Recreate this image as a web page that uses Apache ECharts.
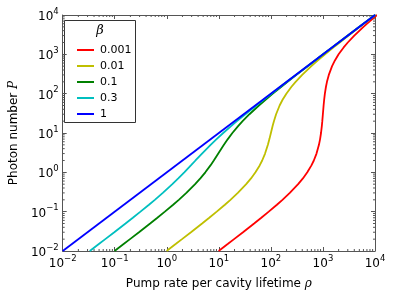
<!DOCTYPE html>
<html><head><meta charset="utf-8">
<script src="https://cdn.jsdelivr.net/npm/echarts@6/dist/echarts.min.js"></script>
<style>html,body{margin:0;padding:0;background:#fff}#c{width:395px;height:296px}</style>
</head><body><div id="c"></div>
<script>
// Photon number grid (y values) shared by curves
const photonNumber = [0.01,0.015,0.02,0.03,0.05,0.07,0.1,0.15,0.2,0.3,0.5,0.7,1,1.5,2,3,5,7,10,15,20,30,50,70,100,150,200,300,500,700,1000,1500,2000,3000,5000,7000,10000];
// Pump rate (x values) read for each beta
const pump_b0001 = [9.901,14.779,19.608,29.127,47.621,65.425,90.918,130.45,166.7,230.84,333.5,412.05,500.5,600.9,668,752.25,837.5,881.13,918.18,951.56,971.43,996.77,1029.4,1054.9,1089.1,1142.4,1194.0,1295.7,1497.0,1697.6,1998.0,2498.3,2998.5,3998.7,5998.8,7998.9,10998.9];
const pump_b001 = [0.9902,1.4781,1.9612,2.9135,4.7643,6.5466,9.1,13.063,16.7,23.146,33.5,41.465,50.5,60.9,68,77.25,87.5,93.625,100,107.81,114.29,125.81,147.06,167.61,198.02,248.34,298.51,398.67,598.8,798.86,1098.9,1598.9,2099.0,3099.0,5099.0,7099.0,10099.0];
const pump_b01 = [0.09911,0.148,0.19647,0.29214,0.47857,0.65879,0.91818,1.32391,1.7,2.3769,3.5,4.4059,5.5,6.9,8,9.75,12.5,14.875,18.182,23.4375,28.571,38.71,58.824,78.873,108.91,158.94,208.96,308.97,508.98,708.99,1008.99,1508.99,2009.0,3009.0,5009.0,7009.0,10009.0];
const pump_b03 = [0.033102,0.049483,0.065752,0.097961,0.161111,0.222648,0.312121,0.454348,0.588889,0.838462,1.277778,1.660784,2.166667,2.9,3.555556,4.75,6.944444,9.041667,12.121212,17.1875,22.222222,32.258065,52.287582,72.300469,102.310231,152.3179,202.3217,302.3256,502.3287,702.33,1002.331,1502.332,2002.332,3002.333,5002.333,7002.333,10002.333];
const pump_b1 = [0.01, 10000];
const photon_b1 = [0.01, 10000];
const betaLabels = ['0.001','0.01','0.1','0.3','1'];
const colors = ['#ff0000','#bfbf00','#008000','#00bfbf','#0000ff'];

function pairs(xs, ys){ return xs.map((x,i)=>[x, ys[i]]); }
const seriesData = [
  pairs(pump_b0001, photonNumber),
  pairs(pump_b001, photonNumber),
  pairs(pump_b01, photonNumber),
  pairs(pump_b03, photonNumber),
  pairs(pump_b1, photon_b1)
];

const FONT = 'DejaVu Sans';
function powLabel(v){
  const e = Math.round(Math.log10(v));
  return '{b|10}{s|' + (e<0 ? '\u2212' + (-e) : e) + '}';
}
const rich = {
  b:{fontSize:12, fontFamily:FONT, color:'#000', lineHeight:16, verticalAlign:'bottom'},
  s:{fontSize:8.5, fontFamily:FONT, color:'#000', lineHeight:16, verticalAlign:'top'}
};
const axisLine = {show:true, lineStyle:{color:'#555', width:1}};
const axisTick = {show:true, inside:true, length:4, lineStyle:{color:'#555', width:1}};

const chart = echarts.init(document.getElementById('c'), null, {renderer:'canvas'});
const grid = {left:59, right:20, top:15, bottom:45};
chart.setOption({
  animation:false,
  grid: grid,
  xAxis:[{
    type:'log', logBase:10, min:0.01, max:10000, position:'bottom',
    axisLine:axisLine, axisTick:axisTick, splitLine:{show:false}, minorTick:{show:false},
    axisLabel:{formatter:powLabel, rich:rich, margin:3},
    name:'Pump rate per cavity lifetime {i|\u03c1}', nameLocation:'middle', nameGap:27,
    nameTextStyle:{fontSize:12, fontFamily:FONT, color:'#000', rich:{i:{fontSize:12, fontFamily:'DejaVu Serif', fontStyle:'italic', color:'#000'}}}
  },{
    type:'log', logBase:10, min:0.01, max:10000, position:'top',
    axisLine:axisLine, axisTick:axisTick, axisLabel:{show:false}, splitLine:{show:false}
  }],
  yAxis:[{
    type:'log', logBase:10, min:0.01, max:10000, position:'left',
    axisLine:axisLine, axisTick:axisTick, splitLine:{show:false},
    axisLabel:{formatter:powLabel, rich:rich, margin:4},
    name:'Photon number {i|P}', nameLocation:'middle', nameGap:41, nameRotate:90,
    nameTextStyle:{fontSize:12, fontFamily:FONT, color:'#000', rich:{i:{fontSize:12, fontFamily:'DejaVu Serif', fontStyle:'italic', color:'#000'}}}
  },{
    type:'log', logBase:10, min:0.01, max:10000, position:'right',
    axisLine:axisLine, axisTick:axisTick, axisLabel:{show:false}, splitLine:{show:false}
  }],
  legend:{
    left:72, top:37, orient:'vertical', itemWidth:17, itemHeight:2, itemGap:0,
    icon:'rect',
    data:betaLabels,
    formatter: n => '{a|' + n + '}',
    textStyle:{fontSize:11, fontFamily:FONT, color:'#000', lineHeight:16,
      rich:{a:{fontSize:11, fontFamily:FONT, color:'#000', lineHeight:16, padding:[0,0,0,1]}}}
  },
  series: seriesData.map((d,i)=>({
    type:'line', name:betaLabels[i], data:d, symbol:'none', clip:true,
    lineStyle:{color:colors[i], width:1.8}, itemStyle:{color:colors[i]}
  }))
});

// minor ticks (2..9 per decade) on all four sides + legend frame
const g = [];
const r = chart.getModel().getComponent('grid').coordinateSystem.getRect();
for (let d=-2; d<4; d++){
  for (let m=2; m<10; m++){
    const v = m*Math.pow(10,d);
    const px = chart.convertToPixel({xAxisIndex:0}, v);
    const py = chart.convertToPixel({yAxisIndex:0}, v);
    g.push({type:'line', shape:{x1:px,y1:r.y+r.height,x2:px,y2:r.y+r.height-2}, style:{stroke:'#555',lineWidth:1}, silent:true});
    g.push({type:'line', shape:{x1:px,y1:r.y,x2:px,y2:r.y+2}, style:{stroke:'#555',lineWidth:1}, silent:true});
    g.push({type:'line', shape:{x1:r.x,y1:py,x2:r.x+2,y2:py}, style:{stroke:'#555',lineWidth:1}, silent:true});
    g.push({type:'line', shape:{x1:r.x+r.width,y1:py,x2:r.x+r.width-2,y2:py}, style:{stroke:'#555',lineWidth:1}, silent:true});
  }
}
g.push({type:'rect', shape:{x:64.5,y:20.5,width:71,height:102}, style:{fill:'rgba(255,255,255,0.9)',stroke:'#333',lineWidth:1}, z:-1, silent:true});
g.push({type:'text', x:100, y:31, style:{text:'\u03b2', font:'italic 13px "DejaVu Serif"', fill:'#000', align:'center', verticalAlign:'middle'}, silent:true});
chart.setOption({graphic:{elements:g}});
</script></body></html>
